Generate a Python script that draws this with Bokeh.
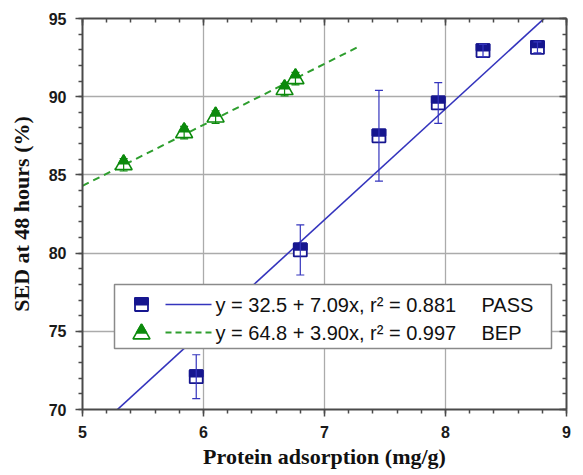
import numpy as np
from bokeh.plotting import figure
from bokeh.models import (LinearAxis, SingleIntervalTicker, Range1d, ColumnDataSource,
                          Whisker, TeeHead, CustomJSTickFormatter)
from bokeh.embed import file_html
from bokeh.resources import INLINE
from bokeh.core.properties import value

# ---------------- data ----------------
pass_x = [5.94, 6.80, 7.45, 7.94, 8.31, 8.76]
pass_y = [72.1, 80.2, 87.5, 89.6, 92.95, 93.15]
pass_err = [1.4, 1.6, 2.9, 1.3, 0.4, 0.35]

bep_x = [5.34, 5.84, 6.10, 6.67, 6.76]
bep_y = [85.65, 87.7, 88.7, 90.45, 91.15]
bep_err = [0.4, 0.4, 0.4, 0.4, 0.4]

pass_fit = (32.5, 7.09)      # intercept, slope
bep_fit = (64.8, 3.90)
pass_fit_span = [5.0, 9.0]
bep_fit_span = [5.0, 7.3]

legend_labels = ["y = 32.5 + 7.09x, r\u00b2 = 0.881", "y = 64.8 + 3.90x, r\u00b2 = 0.997"]
legend_names = ["PASS", "BEP"]

x_label = "Protein adsorption (mg/g)"
y_label = "SED at 48 hours (%)"

# ---------------- style ----------------
NAVY = "#16168f"
BLUE_LINE = "#3434bd"
GREEN = "#0c8a0c"
GREEN_LINE = "#2e9e2e"
AX = "#4a4a4a"

FW, FH = 484, 391
X0, X1, Y0, Y1 = 5, 9, 70, 95

p = figure(x_range=Range1d(X0, X1), y_range=Range1d(Y0, Y1),
           frame_width=FW, frame_height=FH,
           min_border_left=82, min_border_right=7, min_border_top=18, min_border_bottom=56,
           output_backend="svg", toolbar_location=None, tools="",
           x_axis_label=x_label, y_axis_label=y_label)
p.outline_line_color = None
p.background_fill_color = "white"
p.border_fill_color = "white"

xt = SingleIntervalTicker(interval=1, num_minor_ticks=5)
yt = SingleIntervalTicker(interval=5, num_minor_ticks=5)
p.xaxis.ticker = xt
p.yaxis.ticker = yt
p.xgrid.ticker = xt
p.ygrid.ticker = yt
for g in (p.xgrid, p.ygrid):
    g.grid_line_color = "#ababab"
    g.grid_line_width = 1.3


def style_axis(ax, outward):
    ax.axis_line_color = AX
    ax.axis_line_width = 2
    ax.major_tick_line_color = AX
    ax.minor_tick_line_color = AX
    ax.major_tick_line_width = 1.5
    ax.minor_tick_line_width = 1.5
    if outward:
        ax.major_tick_out, ax.major_tick_in = 7, 0
        ax.minor_tick_out, ax.minor_tick_in = 4, 0
    else:
        ax.major_tick_out, ax.major_tick_in = 0, 7
        ax.minor_tick_out, ax.minor_tick_in = 0, 4


for ax in (p.xaxis[0], p.yaxis[0]):
    style_axis(ax, True)
    ax.major_label_text_font = "Liberation Sans"
    ax.major_label_text_font_style = "bold"
    ax.major_label_text_font_size = "16px"
    ax.major_label_text_color = "#1a1a1a"
    ax.axis_label_text_font = "Liberation Serif"
    ax.axis_label_text_font_style = "bold"
    ax.axis_label_text_font_size = "22px"
    ax.axis_label_text_color = "#111111"

p.xaxis[0].major_label_standoff = 9
p.xaxis[0].axis_label_standoff = 3
p.yaxis[0].major_label_standoff = 9
p.yaxis[0].axis_label_standoff = 12

blank = CustomJSTickFormatter(code="return ''")
top = LinearAxis(ticker=SingleIntervalTicker(interval=1, num_minor_ticks=5),
                 formatter=blank, major_label_standoff=0)
right = LinearAxis(ticker=SingleIntervalTicker(interval=5, num_minor_ticks=5),
                   formatter=CustomJSTickFormatter(code="return ''"), major_label_standoff=0)
style_axis(top, False)
style_axis(right, False)
p.add_layout(top, "above")
p.add_layout(right, "right")

# pixel helpers (layout of legend/marker decoration only)
ypp = (Y1 - Y0) / FH
xpp = (X1 - X0) / FW

# ---------------- fit lines ----------------
fx = np.array(pass_fit_span)
p.line(fx, pass_fit[0] + pass_fit[1] * fx, line_color=BLUE_LINE, line_width=1.6)
bx = np.array(bep_fit_span)
p.line(bx, bep_fit[0] + bep_fit[1] * bx, line_color=GREEN_LINE, line_width=2,
       line_dash="7 5")

SQ = 13
TRI = 17
K = 0.6


def half_square(xs, ys):
    p.scatter(xs, ys, marker="square", size=SQ, fill_color="white",
              line_color=NAVY, line_width=1.8)
    p.rect(xs, [y + SQ / 4 * ypp for y in ys], width=SQ, height=SQ / 2,
           width_units="screen", height_units="screen",
           fill_color=NAVY, line_color=NAVY, line_width=1.8)


def half_triangle(xs, ys):
    p.scatter(xs, ys, marker="triangle", size=TRI, fill_color="white",
              line_color=GREEN, line_width=1.6)
    h = TRI / 2 * np.sqrt(3)
    p.scatter(xs, [y + 2 * h * (1 - K) / 3 * ypp for y in ys], marker="triangle",
              size=TRI * K, fill_color=GREEN, line_color=GREEN, line_width=1.6)


# ---------------- error bars ----------------
src_p = ColumnDataSource(dict(x=pass_x,
                              lo=[y - e for y, e in zip(pass_y, pass_err)],
                              hi=[y + e for y, e in zip(pass_y, pass_err)]))
src_b = ColumnDataSource(dict(x=bep_x,
                              lo=[y - e for y, e in zip(bep_y, bep_err)],
                              hi=[y + e for y, e in zip(bep_y, bep_err)]))
half_square(pass_x, pass_y)
half_triangle(bep_x, bep_y)
for src, col in ((src_p, BLUE_LINE), (src_b, GREEN)):
    w = Whisker(source=src, base="x", lower="lo", upper="hi", level="overlay",
                line_color=col, line_width=1.2,
                upper_head=TeeHead(size=8, line_color=col, line_width=1.2),
                lower_head=TeeHead(size=8, line_color=col, line_width=1.2))
    p.add_layout(w)

# ---------------- legend (drawn manually) ----------------
def dxp(px):
    return X0 + (px - 84) * xpp


def dyp(py):
    return Y1 - (py - 19) * ypp


p.quad(left=[dxp(116)], right=[dxp(553)], top=[dyp(285)], bottom=[dyp(349)],
       fill_color="white", line_color="#8a8a8a", line_width=1.5)
rows = [dyp(305), dyp(333)]
half_square([dxp(143)], [rows[0]])
half_triangle([dxp(143)], [rows[1] - 1.5 * ypp])
p.line([dxp(167), dxp(213)], [rows[0], rows[0]], line_color=BLUE_LINE, line_width=1.6)
p.line([dxp(167), dxp(213)], [rows[1], rows[1]], line_color=GREEN_LINE, line_width=2,
       line_dash="6 4")
p.text(x=[dxp(217), dxp(217)], y=rows, text=legend_labels,
       text_font=value("Liberation Sans"), text_font_size="20px",
       text_baseline="middle", text_align="left", text_color="#111111")
p.text(x=[dxp(483), dxp(483)], y=rows, text=legend_names,
       text_font=value("Liberation Sans"), text_font_size="20px",
       text_baseline="middle", text_align="left", text_color="#111111")

open("out.html", "w").write(file_html(p, INLINE))
